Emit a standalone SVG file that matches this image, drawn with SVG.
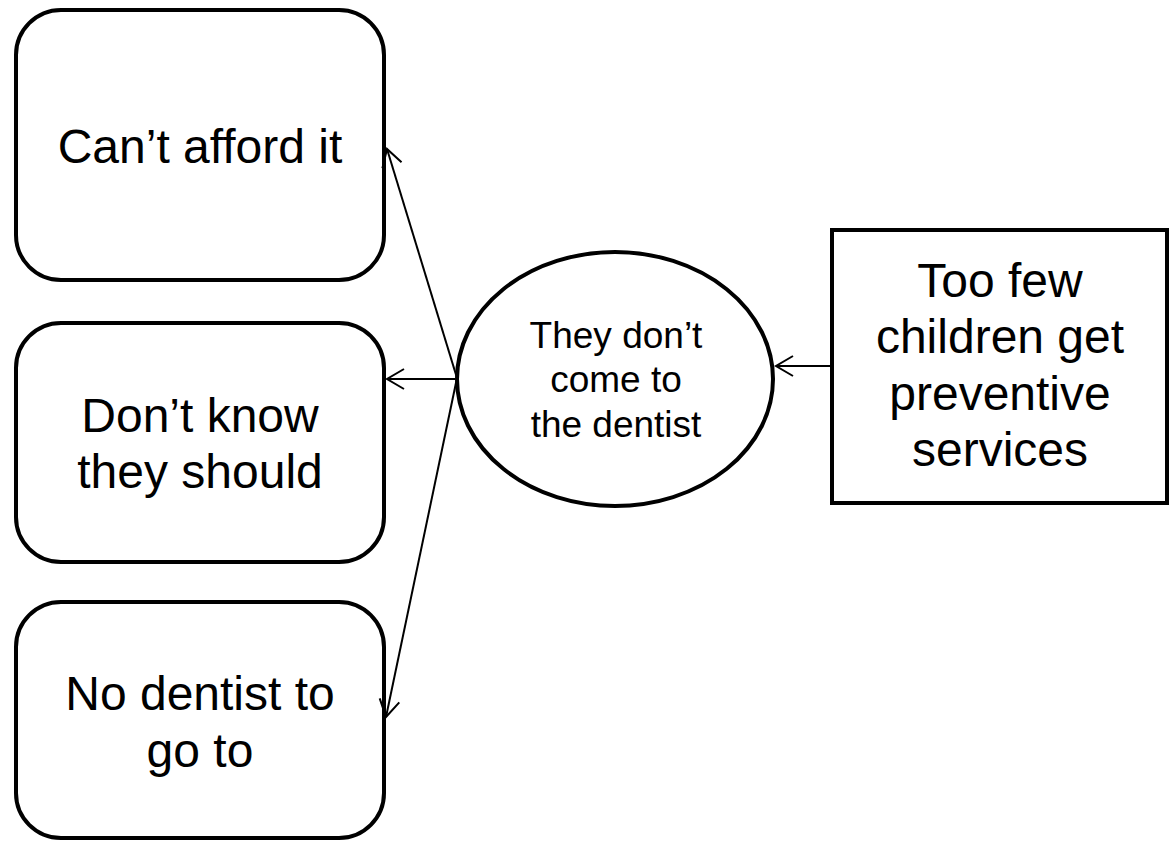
<svg xmlns="http://www.w3.org/2000/svg" width="1173" height="841" viewBox="0 0 1173 841">
<defs>
<style>
.box{fill:#fff;stroke:#000;stroke-width:4}
.t{font-family:"Liberation Sans",Arial,sans-serif;font-size:48px;fill:#000;text-anchor:middle}
.ts{font-family:"Liberation Sans",Arial,sans-serif;font-size:37px;fill:#000;text-anchor:middle}
.c{stroke:#000;stroke-width:2;fill:none;marker-end:url(#arr)}
</style>
<marker id="arr" markerUnits="userSpaceOnUse" viewBox="-20 -12 22 24" markerWidth="22" markerHeight="24" refX="0" refY="0" orient="auto" overflow="visible">
<path d="M-17,-10 L0,0 L-17,10" fill="none" stroke="#000" stroke-width="2"/>
</marker>
</defs>
<rect width="1173" height="841" fill="#fff"/>
<g id="n1">
<rect class="box" x="16" y="10" width="368" height="270" rx="45" ry="45"/>
<text class="t" x="200" y="163">Can’t afford it</text>
</g>
<g id="n2">
<rect class="box" x="16" y="323" width="368" height="239" rx="45" ry="45"/>
<text class="t" x="200" y="432">Don’t know</text>
<text class="t" x="200" y="488">they should</text>
</g>
<g id="n3">
<rect class="box" x="16" y="602" width="368" height="236" rx="45" ry="45"/>
<text class="t" x="200" y="710">No dentist to</text>
<text class="t" x="200" y="767">go to</text>
</g>
<g id="n4">
<ellipse class="box" cx="615" cy="379" rx="158" ry="127"/>
<text class="ts" x="616" y="348">They don’t</text>
<text class="ts" x="616" y="392">come to</text>
<text class="ts" x="616" y="437">the dentist</text>
</g>
<g id="n5">
<rect class="box" x="832" y="230" width="335" height="273"/>
<text class="t" x="1000" y="297">Too few</text>
<text class="t" x="1000" y="353">children get</text>
<text class="t" x="1000" y="410">preventive</text>
<text class="t" x="1000" y="466">services</text>
</g>
<g id="connectors">
<line class="c" x1="457" y1="378" x2="387" y2="149"/>
<line class="c" x1="457" y1="379" x2="387" y2="379"/>
<line class="c" x1="457" y1="378" x2="386" y2="717"/>
<line class="c" x1="832" y1="366" x2="776" y2="366"/>
</g>
</svg>
